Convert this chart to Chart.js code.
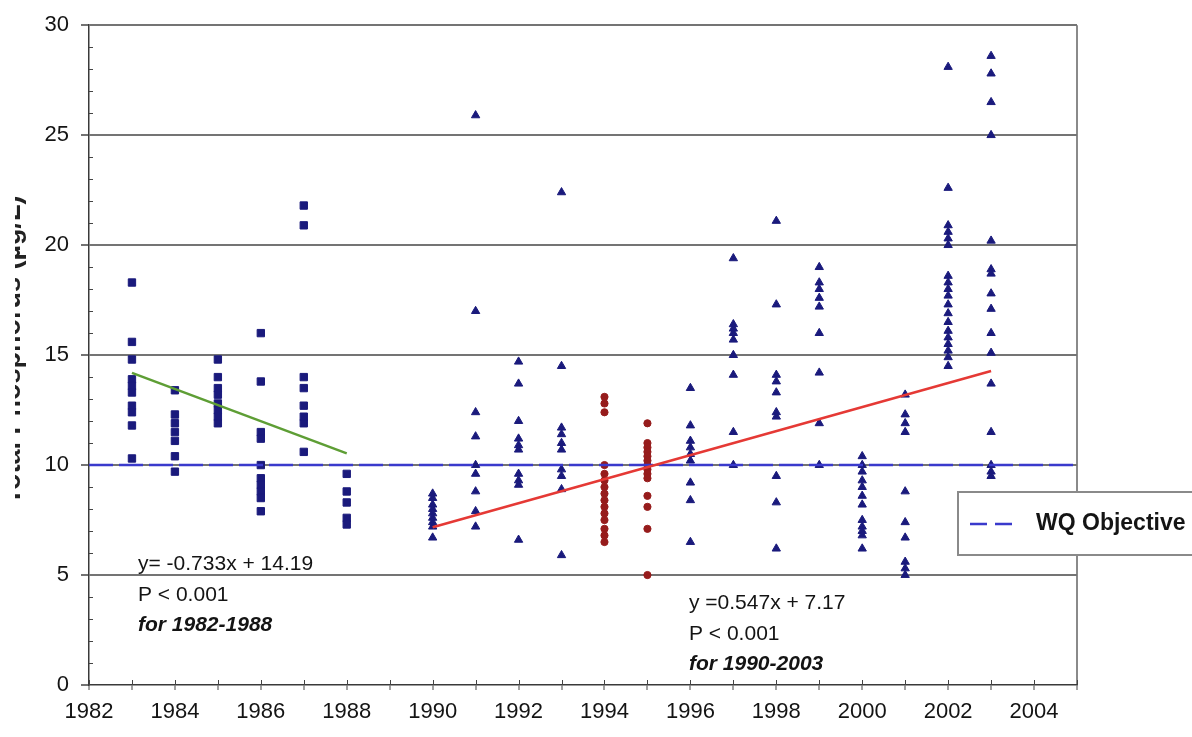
<!DOCTYPE html>
<html><head><meta charset="utf-8">
<script src="https://cdn.jsdelivr.net/npm/chart.js@4.4.0/dist/chart.umd.min.js"></script>
<style>html,body{margin:0;padding:0;background:#fff;overflow:hidden}canvas{display:block}</style>
</head><body>
<canvas id="c" width="1192" height="737"></canvas>
<script>
// ---------- data ----------
const squareYears = [1983, 1984, 1985, 1986, 1987, 1988];
const squareValues = [
  [18.3, 15.6, 14.8, 13.9, 13.6, 13.3, 12.7, 12.4, 11.8, 10.3],
  [13.4, 12.3, 11.9, 11.5, 11.1, 10.4, 9.7],
  [14.8, 14.0, 13.5, 13.2, 12.8, 12.5, 12.2, 11.9],
  [16.0, 13.8, 11.5, 11.2, 10.0, 9.4, 9.1, 8.8, 8.5, 7.9],
  [21.8, 20.9, 14.0, 13.5, 12.7, 12.2, 11.9, 10.6],
  [9.6, 8.8, 8.3, 7.6, 7.3]
];
const triangleYears = [1990, 1991, 1992, 1993, 1996, 1997, 1998, 1999, 2000, 2001, 2002, 2003];
const triangleValues = [
  [8.7, 8.5, 8.2, 8.0, 7.8, 7.6, 7.4, 7.2, 6.7],
  [25.9, 17.0, 12.4, 11.3, 10.0, 9.6, 8.8, 7.9, 7.2],
  [14.7, 13.7, 12.0, 11.2, 10.9, 10.7, 9.6, 9.3, 9.1, 6.6],
  [22.4, 14.5, 11.7, 11.4, 11.0, 10.7, 9.8, 9.5, 8.9, 5.9],
  [13.5, 11.8, 11.1, 10.8, 10.5, 10.2, 9.2, 8.4, 6.5],
  [19.4, 16.4, 16.2, 16.0, 15.7, 15.0, 14.1, 11.5, 10.0],
  [21.1, 17.3, 14.1, 13.8, 13.3, 12.4, 12.2, 9.5, 8.3, 6.2],
  [19.0, 18.3, 18.0, 17.6, 17.2, 16.0, 14.2, 11.9, 10.0],
  [10.4, 10.0, 9.7, 9.3, 9.0, 8.6, 8.2, 7.5, 7.2, 7.0, 6.8, 6.2],
  [13.2, 12.3, 11.9, 11.5, 8.8, 7.4, 6.7, 5.6, 5.3, 5.0],
  [28.1, 22.6, 20.9, 20.6, 20.3, 20.0, 18.6, 18.3, 18.0, 17.7, 17.3, 16.9, 16.5, 16.1, 15.8, 15.5, 15.2, 14.9, 14.5],
  [28.6, 27.8, 26.5, 25.0, 20.2, 18.9, 18.7, 17.8, 17.1, 16.0, 15.1, 13.7, 11.5, 10.0, 9.7, 9.5]
];
const circleYears = [1994, 1995];
const circleValues = [
  [13.1, 12.8, 12.4, 10.0, 9.6, 9.3, 9.0, 8.7, 8.4, 8.1, 7.8, 7.5, 7.1, 6.8, 6.5],
  [11.9, 11.0, 10.8, 10.6, 10.4, 10.2, 10.0, 9.8, 9.6, 9.4, 8.6, 8.1, 7.1, 5.0]
];
const trendEarlyYears = [1983, 1988];
const trendEarlyValues = [14.19, 10.53];
const trendLateYears = [1990, 2003];
const trendLateValues = [7.17, 14.28];
const objectiveYears = [1982, 2005];
const objectiveValues = [10, 10];
const xTickRange = [1982, 2005];
const yTickRange = [0, 30];
const yTitle = 'Total Phosphorus (µg/L)';
const legendLabel = 'WQ Objective';
const noteEarly = ['y= -0.733x + 14.19', 'P < 0.001', 'for 1982-1988'];
const noteLate = ['y =0.547x + 7.17', 'P < 0.001', 'for 1990-2003'];

// ---------- helpers ----------
function toPoints(years, values) {
  const out = [];
  years.forEach((yr, i) => values[i].forEach(v => out.push({x: yr, y: v})));
  return out;
}
function toLine(xs, ys) { return xs.map((x, i) => ({x: x, y: ys[i]})); }

const FONT = '"Liberation Sans", Arial, sans-serif';
const NAVY = '#1a1a7c';
const TEXT = '#141414';

const extras = {
  id: 'extras',
  afterDraw(chart) {
    const ctx = chart.ctx;
    const xs = chart.scales.x, ys = chart.scales.y;
    ctx.save();
    // inner minor ticks on y axis
    ctx.strokeStyle = '#444'; ctx.lineWidth = 1;
    for (let v = yTickRange[0]; v <= yTickRange[1]; v++) {
      if (v % 5 === 0) continue;
      const py = Math.round(ys.getPixelForValue(v)) + 0.5;
      ctx.beginPath(); ctx.moveTo(xs.left, py); ctx.lineTo(xs.left + 4, py); ctx.stroke();
    }
    // inner part of x ticks
    for (let v = xTickRange[0]; v <= xTickRange[1]; v++) {
      const px = Math.round(xs.getPixelForValue(v)) + 0.5;
      ctx.beginPath(); ctx.moveTo(px, ys.bottom); ctx.lineTo(px, ys.bottom - 5); ctx.stroke();
    }
    // notes
    ctx.fillStyle = TEXT;
    ctx.textAlign = 'left'; ctx.textBaseline = 'middle';
    const drawNote = (lines, x, y0) => {
      ctx.font = '21px ' + FONT; ctx.fillText(lines[0], x, y0);
      ctx.fillText(lines[1], x, y0 + 31);
      ctx.font = 'italic bold 21px ' + FONT; ctx.fillText(lines[2], x, y0 + 61);
    };
    drawNote(noteEarly, 138, 564);
    drawNote(noteLate, 689, 603);
    // legend box
    ctx.fillStyle = '#fff';
    ctx.fillRect(958, 492, 240, 63);
    ctx.strokeStyle = '#8a8a8a'; ctx.lineWidth = 2;
    ctx.strokeRect(958, 492, 240, 63);
    ctx.strokeStyle = '#3a3acc'; ctx.lineWidth = 2.5; ctx.setLineDash([17, 8]);
    ctx.beginPath(); ctx.moveTo(970, 524); ctx.lineTo(1013, 524); ctx.stroke();
    ctx.setLineDash([]);
    ctx.fillStyle = TEXT; ctx.font = 'bold 23px ' + FONT;
    ctx.fillText(legendLabel, 1036, 524);
    // y axis title (clipped at left edge like the source)
    ctx.save();
    ctx.beginPath(); ctx.rect(15, 0, 40, 737); ctx.clip();
    ctx.translate(20, 350); ctx.rotate(-Math.PI / 2);
    ctx.font = 'bold 27px ' + FONT; ctx.textAlign = 'center'; ctx.textBaseline = 'alphabetic';
    ctx.fillStyle = '#222';
    ctx.fillText(yTitle, 0, 0);
    ctx.restore();
    ctx.restore();
  }
};

new Chart(document.getElementById('c'), {
  type: 'scatter',
  data: {
    datasets: [
      { label: 'trend 1990-2003', data: toLine(trendLateYears, trendLateValues), showLine: true,
        borderColor: '#e53935', borderWidth: 2.5, pointRadius: 0, fill: false },
      { label: 'trend 1982-1988', data: toLine(trendEarlyYears, trendEarlyValues), showLine: true,
        borderColor: '#5e9e35', borderWidth: 2.5, pointRadius: 0, fill: false },
      { label: legendLabel, data: toLine(objectiveYears, objectiveValues), showLine: true,
        borderColor: '#3a3acc', borderWidth: 2.5, borderDash: [24, 6], pointRadius: 0, fill: false },
      { label: '1994-1995', data: toPoints(circleYears, circleValues), pointStyle: 'circle',
        pointRadius: 3.6, backgroundColor: '#961c1c', borderColor: '#961c1c', borderWidth: 1 },
      { label: '1990-2003', data: toPoints(triangleYears, triangleValues), pointStyle: 'triangle',
        pointRadius: 4.8, backgroundColor: NAVY, borderColor: NAVY, borderWidth: 1 },
      { label: '1983-1988', data: toPoints(squareYears, squareValues), pointStyle: 'rect',
        pointRadius: 5.2, backgroundColor: NAVY, borderColor: NAVY, borderWidth: 1 }
    ]
  },
  options: {
    responsive: false,
    animation: false,
    layout: { padding: { left: 0, right: 115, top: 23, bottom: 0 } },
    plugins: { legend: { display: false }, tooltip: { enabled: false } },
    scales: {
      x: {
        type: 'linear', min: xTickRange[0], max: xTickRange[1],
        afterFit: s => { s.height = 52; },
        border: { display: true, color: '#3a3a3a', width: 1.5 },
        grid: {
          drawOnChartArea: true, drawTicks: true, tickLength: 5,
          color: c => (c.tick && c.tick.value === xTickRange[1]) ? '#8a8a8a' : 'rgba(0,0,0,0)',
          lineWidth: 2,
          tickColor: '#444', tickWidth: 1
        },
        ticks: {
          stepSize: 1, autoSkip: false, maxRotation: 0, padding: 9,
          color: TEXT, font: { family: FONT, size: 22 },
          callback: v => (v % 2 === 0 && v < xTickRange[1]) ? String(v) : ''
        }
      },
      y: {
        min: yTickRange[0], max: yTickRange[1],
        afterFit: s => { s.width = 89; },
        border: { display: true, color: '#3a3a3a', width: 1.5 },
        grid: {
          drawTicks: true, tickLength: 8,
          color: c => (c.tick && c.tick.value % 5 === 0 && c.tick.value > 0) ? '#747474' : 'rgba(0,0,0,0)',
          lineWidth: 2,
          tickColor: c => (c.tick && c.tick.value % 5 === 0) ? '#444' : 'rgba(0,0,0,0)',
          tickWidth: 1.5
        },
        ticks: {
          stepSize: 1, autoSkip: false, padding: 12,
          color: TEXT, font: { family: FONT, size: 22 },
          callback: v => (v % 5 === 0) ? String(v) : ''
        }
      }
    }
  },
  plugins: [extras]
});
</script>
</body></html>
